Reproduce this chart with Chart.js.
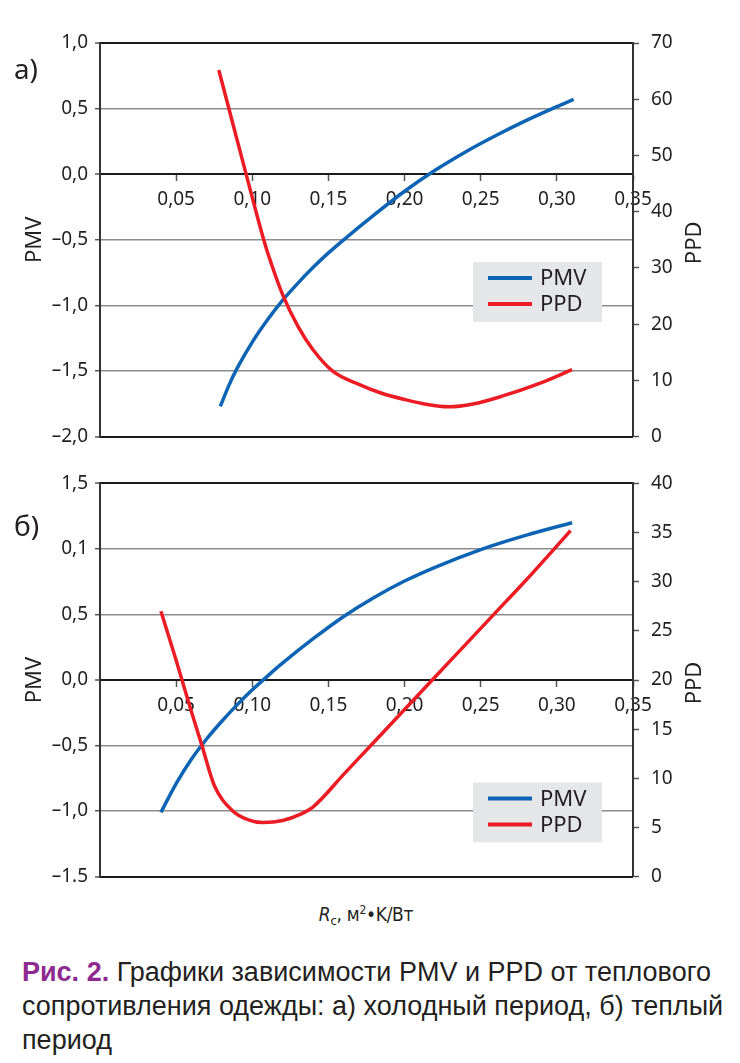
<!DOCTYPE html>
<html lang="ru">
<head>
<meta charset="utf-8">
<title>PMV и PPD</title>
<script src="https://cdn.jsdelivr.net/npm/chart.js@4.4.1/dist/chart.umd.min.js"></script>
<style>
  body { margin: 0; background: #fff; }
  #page { position: relative; width: 740px; height: 1063px; overflow: hidden; color: #231f20; }
  canvas { position: absolute; left: 0; }
  #chartA { top: 0; }
  #chartB { top: 460px; }
  .panel { position: absolute; left: 14px; font: 28px "Noto Sans", sans-serif; line-height: 1; }
  #xTitle { position: absolute; left: 0; width: 732px; top: 903px; text-align: center;
            font: 19px "Liberation Sans Narrow", "DejaVu Sans Condensed", "Liberation Sans", sans-serif;
            letter-spacing: -0.3px; }
  #xTitle sub { font-size: 13px; vertical-align: -4px; }
  #xTitle sup { font-size: 12px; vertical-align: 7px; }
  #caption { position: absolute; left: 22px; top: 955px; font: 27px "Liberation Sans", Arial, sans-serif;
             line-height: 34px; white-space: nowrap; }
  #caption b { color: #8e2a8f; }
</style>
</head>
<body>
<div id="page">
  <canvas id="chartA" width="740" height="460"></canvas>
  <canvas id="chartB" width="740" height="440"></canvas>
  <div class="panel" style="top:54px">а)</div>
  <div class="panel" style="top:511px">б)</div>
  <div id="xTitle"><i>R</i><sub>c</sub>, м<sup>2</sup>•K/Вт</div>
  <div id="caption"><b>Рис. 2.</b> Графики зависимости PMV и PPD от теплового<br>сопротивления одежды: а) холодный период, б) теплый<br>период</div>
</div>
<script>
// shared x axis (R_c, m2*K/W)
const xTicks = [0.05, 0.10, 0.15, 0.20, 0.25, 0.30, 0.35];
const xTickLabels = ["0,05", "0,10", "0,15", "0,20", "0,25", "0,30", "0,35"];

// а) cold period
const rcPmvA = [0.079, 0.085, 0.09, 0.10, 0.11, 0.12, 0.13, 0.14, 0.15, 0.16, 0.18, 0.20, 0.22, 0.24, 0.26, 0.28, 0.30, 0.311];
const pmvA = [-1.77, -1.60, -1.48, -1.28, -1.11, -0.96, -0.83, -0.71, -0.60, -0.50, -0.31, -0.13, 0.03, 0.17, 0.295, 0.41, 0.515, 0.57];
const rcPpdA = [0.078, 0.09, 0.10, 0.107, 0.11, 0.12, 0.13, 0.14, 0.153, 0.17, 0.184, 0.20, 0.215, 0.229, 0.245, 0.263, 0.29, 0.31];
const ppdA = [65.2, 52.8, 42.5, 35.5, 32.8, 25.2, 19.6, 15.4, 11.6, 9.3, 7.8, 6.6, 5.7, 5.3, 5.8, 7.1, 9.6, 11.9];
const pmvTicksA = [-2, -1.5, -1, -0.5, 0, 0.5, 1];
const pmvLabelsA = ["–2,0", "–1,5", "–1,0", "–0,5", "0,0", "0,5", "1,0"];
const ppdTicksA = [0, 10, 20, 30, 40, 50, 60, 70];

// б) warm period
const rcPmvB = [0.04, 0.05, 0.06, 0.07, 0.08, 0.09, 0.10, 0.11, 0.12, 0.14, 0.16, 0.18, 0.20, 0.22, 0.25, 0.28, 0.31];
const pmvB = [-1.01, -0.79, -0.605, -0.45, -0.315, -0.19, -0.075, 0.03, 0.13, 0.315, 0.485, 0.63, 0.755, 0.86, 0.995, 1.105, 1.20];
const rcPpdB = [0.04, 0.05, 0.06, 0.067, 0.075, 0.087, 0.097, 0.107, 0.12, 0.131, 0.14, 0.16, 0.18, 0.20, 0.22, 0.24, 0.26, 0.28, 0.309];
const ppdB = [27.0, 22.0, 16.8, 13.3, 9.3, 6.7, 5.8, 5.5, 5.7, 6.3, 7.1, 10.4, 13.7, 17.0, 20.3, 23.6, 26.9, 30.2, 35.2];
const pmvTicksB = [-1.5, -1, -0.5, 0, 0.5, 1, 1.5];
const pmvLabelsB = ["–1.5", "–1,0", "–0,5", "0,0", "0,5", "0,1", "1,5"];
const ppdTicksB = [0, 5, 10, 15, 20, 25, 30, 35, 40];

const BLUE = "#0e64b4";
const RED = "#ec1c24";
const TEXT = "#231f20";
const tickFont = { family: "'Noto Sans', sans-serif", size: 19 };

const toPoints = (xs, ys) => xs.map((x, i) => ({ x: x, y: ys[i] }));

// grey box legend drawn inside the plot, under the right axis
const boxLegend = {
  id: "boxLegend",
  afterDraw(chart, args, opts) {
    const { ctx, chartArea } = chart;
    const left = chartArea.right - 160;
    const top = chartArea.top + opts.top;
    ctx.save();
    ctx.fillStyle = "#e5e6e8";
    ctx.fillRect(left, top, 129, 60);
    ctx.font = "22px 'Noto Sans', sans-serif";
    ctx.textBaseline = "middle";
    ctx.lineWidth = 4;
    chart.data.datasets.forEach((ds, i) => {
      const y = top + 16 + i * 26;
      ctx.strokeStyle = ds.borderColor;
      ctx.beginPath();
      ctx.moveTo(left + 15, y);
      ctx.lineTo(left + 59, y);
      ctx.stroke();
      ctx.fillStyle = TEXT;
      ctx.fillText(ds.label, left + 67, y + 1);
    });
    ctx.restore();
  }
};

// right axis title reads bottom-to-top like the left one
const rightTitle = {
  id: "rightTitle",
  afterDraw(chart, args, opts) {
    const { ctx, chartArea } = chart;
    ctx.save();
    ctx.translate(695, (chartArea.top + chartArea.bottom) / 2 + 3);
    ctx.rotate(-Math.PI / 2);
    ctx.font = "22px 'Noto Sans', sans-serif";
    ctx.fillStyle = TEXT;
    ctx.textAlign = "center";
    ctx.textBaseline = "middle";
    ctx.fillText(opts.text, 0, 0);
    ctx.restore();
  }
};

function makeChart(id, cfg) {
  const pmvMin = cfg.pmvTicks[0];
  const pmvMax = cfg.pmvTicks[cfg.pmvTicks.length - 1];
  const ppdMax = cfg.ppdTicks[cfg.ppdTicks.length - 1];
  const isFrame = (c) => c.tick && (c.tick.value === pmvMin || c.tick.value === pmvMax || c.tick.value === 0);

  return new Chart(document.getElementById(id), {
    type: "line",
    data: {
      datasets: [
        {
          label: "PMV",
          data: toPoints(cfg.rcPmv, cfg.pmv),
          yAxisID: "y",
          borderColor: BLUE,
          borderWidth: 3.5,
          order: 1,
        },
        {
          label: "PPD",
          data: toPoints(cfg.rcPpd, cfg.ppd),
          yAxisID: "y2",
          borderColor: RED,
          borderWidth: 3.5,
          order: 0,
        },
      ],
    },
    options: {
      responsive: false,
      animation: false,
      events: [],
      layout: { padding: { top: cfg.padTop, bottom: cfg.padBottom, left: 0, right: 0 } },
      elements: {
        point: { radius: 0 },
        line: { cubicInterpolationMode: "monotone", borderCapStyle: "butt" },
      },
      plugins: {
        legend: { display: false },
        tooltip: { enabled: false },
        boxLegend: { top: cfg.legendTop },
        rightTitle: { text: "PPD" },
      },
      scales: {
        x: {
          type: "linear",
          position: { y: 0 },
          min: 0,
          max: 0.35,
          afterBuildTicks: (s) => { s.ticks = xTicks.map((v) => ({ value: v })); },
          ticks: {
            callback: (v, i) => xTickLabels[i],
            color: TEXT,
            font: tickFont,
            padding: 8,
            maxRotation: 0,
            autoSkip: false,
          },
          grid: { drawOnChartArea: false, tickLength: 6, tickColor: "#555", tickWidth: 1.5 },
          border: { color: "#1a1a1a", width: 2 },
        },
        y: {
          position: "left",
          min: pmvMin,
          max: pmvMax,
          afterBuildTicks: (s) => { s.ticks = cfg.pmvTicks.map((v) => ({ value: v })); },
          afterFit: (s) => { s.width = 100; },
          ticks: {
            callback: (v, i) => cfg.pmvLabels[i],
            color: TEXT,
            font: tickFont,
            padding: 7,
          },
          title: {
            display: true,
            text: "PMV",
            color: TEXT,
            font: { family: "'Noto Sans', sans-serif", size: 22 },
            padding: { top: 22, bottom: 0 },
          },
          grid: {
            color: (c) => (isFrame(c) ? "#1a1a1a" : "#8c8c8c"),
            lineWidth: (c) => (isFrame(c) ? 2 : 1.4),
            tickLength: 5,
            tickColor: "#555",
            tickWidth: 1.5,
          },
          border: { color: "#333", width: 2 },
        },
        y2: {
          position: "right",
          min: 0,
          max: ppdMax,
          afterBuildTicks: (s) => { s.ticks = cfg.ppdTicks.map((v) => ({ value: v })); },
          afterFit: (s) => { s.width = 107; },
          ticks: {
            callback: (v) => String(v),
            color: TEXT,
            font: tickFont,
            padding: 12,
          },
          grid: { drawOnChartArea: false, tickLength: 6, tickColor: "#555", tickWidth: 1.5 },
          border: { color: "#333", width: 2 },
        },
      },
    },
    plugins: [boxLegend, rightTitle],
  });
}

makeChart("chartA", {
  rcPmv: rcPmvA, pmv: pmvA, rcPpd: rcPpdA, ppd: ppdA,
  pmvTicks: pmvTicksA, pmvLabels: pmvLabelsA, ppdTicks: ppdTicksA,
  padTop: 43, padBottom: 23, legendTop: 219,
});

makeChart("chartB", {
  rcPmv: rcPmvB, pmv: pmvB, rcPpd: rcPpdB, ppd: ppdB,
  pmvTicks: pmvTicksB, pmvLabels: pmvLabelsB, ppdTicks: ppdTicksB,
  padTop: 23, padBottom: 23, legendTop: 299,
});
</script>
</body>
</html>
